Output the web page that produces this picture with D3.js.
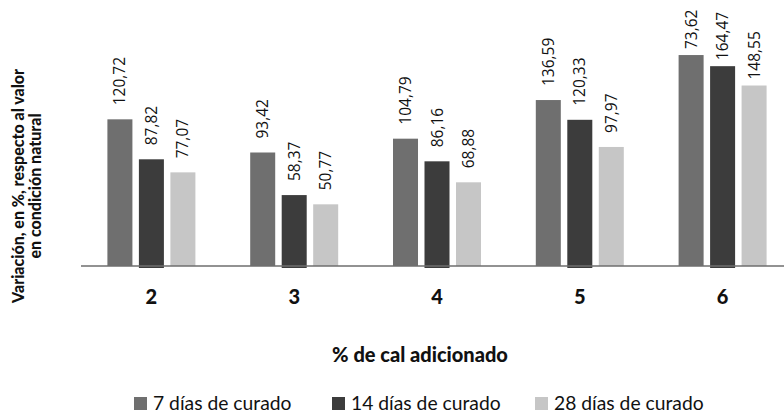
<!DOCTYPE html>
<html>
<head>
<meta charset="utf-8">
<script src="https://cdn.jsdelivr.net/npm/d3@7"></script>
<style>
  html, body { margin: 0; padding: 0; background: #fff; }
  svg { display: block; }
</style>
</head>
<body>
<svg id="chart" width="784" height="416"></svg>
<script>
const categories = ["2", "3", "4", "5", "6"];
const seriesNames = ["7 días de curado", "14 días de curado", "28 días de curado"];
const seriesColors = ["#6f6f6f", "#3c3c3c", "#c6c6c6"];
const values7 = [120.72, 93.42, 104.79, 136.59, 173.62];
const values14 = [87.82, 58.37, 86.16, 120.33, 164.47];
const values28 = [77.07, 50.77, 68.88, 97.97, 148.55];
const labels7 = ["120,72", "93,42", "104,79", "136,59", "73,62"];
const labels14 = ["87,82", "58,37", "86,16", "120,33", "164,47"];
const labels28 = ["77,07", "50,77", "68,88", "97,97", "148,55"];
const yTitleLines = ["Variación, en %, respecto al valor", "en condición natural"];
const xTitle = "% de cal adicionado";

const allValues = [values7, values14, values28];
const allLabels = [labels7, labels14, labels28];

const svg = d3.select("#chart");
const baseY = 266;
const sans = "Lato, 'Noto Sans', sans-serif";

const x0 = d3.scaleBand().domain(categories).range([80, 794]).paddingInner(0).paddingOuter(0);
const x1 = d3.scaleBand().domain(d3.range(3)).range([0, x0.bandwidth()]).paddingInner(0.206).paddingOuter(0.87);
const y = d3.scaleLinear().domain([0, 200]).range([baseY, baseY - 243]);

const data = [];
categories.forEach((c, i) => {
  for (let s = 0; s < 3; s++) {
    data.push({ cat: c, s: s, v: allValues[s][i], label: allLabels[s][i] });
  }
});

// bars
svg.append("g").selectAll("rect").data(data).join("rect")
  .attr("x", d => x0(d.cat) + x1(d.s))
  .attr("width", x1.bandwidth())
  .attr("y", d => y(d.v))
  .attr("height", d => y(0) - y(d.v) + (d.s === 1 ? 2 : 0))
  .attr("fill", d => seriesColors[d.s]);

// axis
const xAxis = d3.axisBottom(x0).tickSize(0).tickPadding(0);
const gx = svg.append("g").attr("transform", `translate(0,${baseY})`).call(xAxis);
gx.select(".domain").attr("d", `M81,0H784`).attr("stroke", "#6e6e6e").attr("stroke-width", 1.6);
gx.selectAll(".tick text")
  .attr("y", 38)
  .attr("dy", 0)
  .attr("font-family", sans)
  .attr("font-weight", "900")
  .attr("font-size", 20)
  .attr("fill", "#111");

// data labels
svg.append("g").selectAll("text").data(data).join("text")
  .attr("transform", d => {
    const cx = x0(d.cat) + x1(d.s) + x1.bandwidth() / 2;
    const top = y(d.v);
    const gap = top < 90 ? 6 : 14;
    return `translate(${cx},${top - gap}) rotate(-90)`;
  })
  .attr("dy", "0.36em")
  .attr("text-anchor", "start")
  .attr("font-family", "'Open Sans', 'Noto Sans', sans-serif")
  .attr("font-size", 15.5)
  .attr("fill", "#111")
  .text(d => d.label);

// x title
svg.append("text")
  .attr("x", 420).attr("y", 362)
  .attr("text-anchor", "middle")
  .attr("font-family", sans)
  .attr("font-weight", "900")
  .attr("font-size", 20)
  .attr("fill", "#111")
  .text(xTitle);

// y title
const yt = svg.append("text")
  .attr("transform", "translate(0,186) rotate(-90)")
  .attr("text-anchor", "middle")
  .attr("font-family", sans)
  .attr("font-weight", "900")
  .attr("font-size", 16)
  .attr("fill", "#111");
yTitleLines.forEach((t, i) => {
  yt.append("tspan").attr("x", 0).attr("y", 24 + i * 17).text(t);
});

// legend
const legendX = [134, 332, 535];
const lg = svg.append("g").selectAll("g").data(seriesNames).join("g")
  .attr("transform", (d, i) => `translate(${legendX[i]},410)`);
lg.append("rect").attr("x", 0).attr("y", -13).attr("width", 13).attr("height", 13)
  .attr("fill", (d, i) => seriesColors[i]);
lg.append("text").attr("x", 19).attr("y", 0)
  .attr("font-family", sans)
  .attr("font-size", 19.3)
  .attr("fill", "#111")
  .text(d => d);
</script>
</body>
</html>
